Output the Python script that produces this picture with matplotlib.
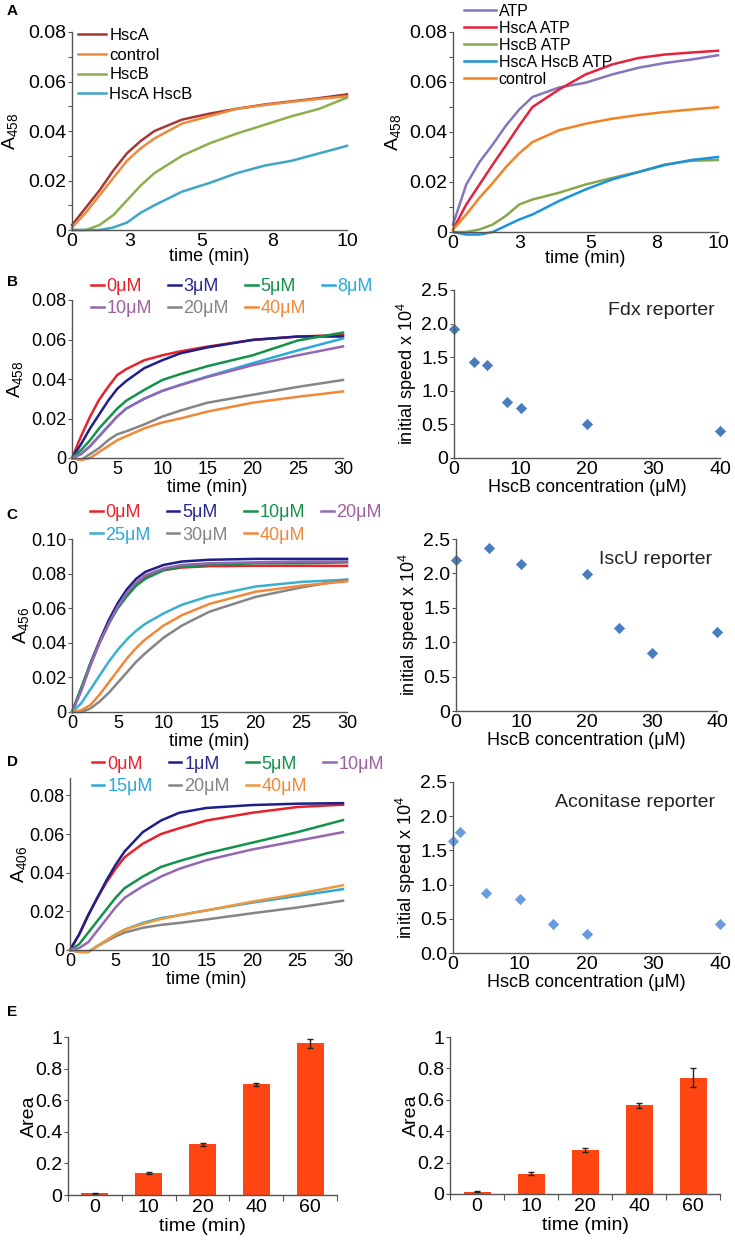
import matplotlib
matplotlib.use('Agg')
import matplotlib.pyplot as plt
from matplotlib.lines import Line2D

plt.rcParams['font.family'] = ['Liberation Sans', 'DejaVu Sans']
plt.rcParams['mathtext.fontset'] = 'custom'
plt.rcParams['mathtext.rm'] = 'Liberation Sans'
plt.rcParams['mathtext.it'] = 'Liberation Sans:italic'

# ---- panel A data ----
tA = [0, 0.5, 1, 1.5, 2, 2.5, 3, 4, 5, 6, 7, 8, 9, 10]
a_labels_left = ['HscA', 'control', 'HscB', 'HscA HscB']
a_hsca = [0.002, 0.009, 0.016, 0.024, 0.031, 0.036, 0.040, 0.0446, 0.047, 0.049, 0.0507, 0.052, 0.0533, 0.0548]
a_ctrl = [0.001, 0.007, 0.014, 0.021, 0.028, 0.033, 0.037, 0.043, 0.046, 0.049, 0.0505, 0.0518, 0.053, 0.054]
a_hscb = [0.0, 0.0, 0.002, 0.006, 0.012, 0.018, 0.023, 0.030, 0.035, 0.039, 0.0425, 0.046, 0.049, 0.0535]
a_hscab = [0.0, 0.0, 0.0, 0.001, 0.003, 0.007, 0.010, 0.0155, 0.019, 0.023, 0.026, 0.028, 0.031, 0.034]

a_labels_right = ['ATP', 'HscA ATP', 'HscB ATP', 'HscA HscB ATP', 'control']
a_atp = [0.003, 0.019, 0.028, 0.035, 0.0426, 0.049, 0.054, 0.0578, 0.0597, 0.063, 0.0657, 0.0676, 0.069, 0.0707]
a_hsca_atp = [0.001, 0.011, 0.019, 0.027, 0.0347, 0.0426, 0.050, 0.057, 0.063, 0.067, 0.0696, 0.071, 0.0718, 0.0725]
a_hscb_atp = [0.0, 0.0, 0.001, 0.003, 0.0065, 0.011, 0.013, 0.0157, 0.019, 0.0216, 0.024, 0.027, 0.0285, 0.0288]
a_hscab_atp = [0.0, -0.001, -0.001, 0.0, 0.0025, 0.005, 0.007, 0.0124, 0.017, 0.021, 0.024, 0.0268, 0.0288, 0.030]
a_ctrl_atp = [0.001, 0.007, 0.0137, 0.0196, 0.026, 0.0315, 0.036, 0.0407, 0.0433, 0.0453, 0.0468, 0.048, 0.049, 0.0499]

# ---- panel B data ----
tB = [0, 1, 2, 3, 4, 5, 6, 8, 10, 12, 15, 20, 25, 30]
b_labels = ['0\u03bcM', '3\u03bcM', '5\u03bcM', '8\u03bcM', '10\u03bcM', '20\u03bcM', '40\u03bcM']
b_curves = [
    [0, 0.011, 0.021, 0.0295, 0.036, 0.042, 0.045, 0.0495, 0.052, 0.054, 0.0564, 0.0598, 0.0615, 0.0623],
    [0, 0.007, 0.015, 0.022, 0.029, 0.035, 0.039, 0.0455, 0.0495, 0.053, 0.056, 0.0598, 0.0615, 0.0615],
    [0, 0.004, 0.009, 0.015, 0.020, 0.025, 0.029, 0.0345, 0.0395, 0.0425, 0.0465, 0.052, 0.0595, 0.0635],
    [0, 0.002, 0.006, 0.011, 0.016, 0.021, 0.025, 0.030, 0.034, 0.037, 0.0413, 0.048, 0.0545, 0.0605],
    [0, 0.002, 0.006, 0.011, 0.016, 0.021, 0.025, 0.030, 0.034, 0.037, 0.041, 0.047, 0.052, 0.0565],
    [0, -0.001, 0.002, 0.005, 0.009, 0.012, 0.0135, 0.017, 0.021, 0.024, 0.028, 0.032, 0.036, 0.0395],
    [0, -0.001, 0.0, 0.003, 0.006, 0.009, 0.011, 0.015, 0.018, 0.020, 0.0235, 0.028, 0.031, 0.0337],
]
fdx_conc = [0, 3, 5, 8, 10, 20, 40]
fdx_speed = [1.92, 1.43, 1.38, 0.84, 0.75, 0.50, 0.40]

# ---- panel C data ----
tC = [0, 1, 2, 3, 4, 5, 6, 7, 8, 10, 12, 15, 20, 25, 30]
c_labels = ['0\u03bcM', '5\u03bcM', '10\u03bcM', '20\u03bcM', '25\u03bcM', '30\u03bcM', '40\u03bcM']
c_curves = [
    [0, 0.013, 0.027, 0.040, 0.051, 0.061, 0.068, 0.074, 0.078, 0.082, 0.0835, 0.0843, 0.0845, 0.0845, 0.0845],
    [0, 0.013, 0.028, 0.041, 0.053, 0.063, 0.071, 0.077, 0.081, 0.085, 0.087, 0.088, 0.0885, 0.0885, 0.0885],
    [0, 0.014, 0.028, 0.040, 0.051, 0.060, 0.067, 0.073, 0.077, 0.082, 0.084, 0.085, 0.086, 0.086, 0.0865],
    [0, 0.012, 0.027, 0.040, 0.051, 0.061, 0.069, 0.075, 0.079, 0.083, 0.085, 0.086, 0.0865, 0.087, 0.087],
    [0, 0.005, 0.013, 0.021, 0.029, 0.036, 0.042, 0.047, 0.051, 0.057, 0.062, 0.067, 0.0725, 0.0752, 0.0765],
    [0, 0.0, 0.002, 0.006, 0.011, 0.017, 0.023, 0.029, 0.034, 0.043, 0.050, 0.058, 0.0665, 0.072, 0.0765],
    [0, 0.001, 0.004, 0.010, 0.017, 0.024, 0.031, 0.037, 0.042, 0.050, 0.056, 0.0625, 0.0695, 0.073, 0.0755],
]
iscu_conc = [0, 5, 10, 20, 25, 30, 40]
iscu_speed = [2.20, 2.37, 2.14, 1.99, 1.20, 0.85, 1.15]

# ---- panel D data ----
tD = [0, 1, 2, 3, 4, 5, 6, 8, 10, 12, 15, 20, 25, 30]
d_labels = ['0\u03bcM', '1\u03bcM', '5\u03bcM', '10\u03bcM', '15\u03bcM', '20\u03bcM', '40\u03bcM']
d_curves = [
    [0, 0.008, 0.018, 0.027, 0.035, 0.042, 0.048, 0.055, 0.060, 0.063, 0.067, 0.071, 0.074, 0.0752],
    [0, 0.008, 0.018, 0.027, 0.036, 0.044, 0.051, 0.061, 0.067, 0.071, 0.0735, 0.075, 0.0757, 0.076],
    [0, 0.003, 0.009, 0.015, 0.021, 0.027, 0.032, 0.038, 0.043, 0.046, 0.050, 0.0555, 0.061, 0.0672],
    [0, 0.001, 0.004, 0.010, 0.016, 0.022, 0.027, 0.033, 0.038, 0.042, 0.0465, 0.052, 0.0565, 0.061],
    [0, -0.001, -0.001, 0.002, 0.005, 0.008, 0.0105, 0.014, 0.0165, 0.018, 0.0205, 0.0245, 0.028, 0.0315],
    [0, -0.001, -0.001, 0.002, 0.0045, 0.007, 0.009, 0.0115, 0.013, 0.014, 0.0158, 0.019, 0.022, 0.0255],
    [0, -0.001, -0.001, 0.002, 0.005, 0.008, 0.0105, 0.0135, 0.016, 0.018, 0.0205, 0.025, 0.029, 0.0335],
]
acn_conc = [0, 1, 5, 10, 15, 20, 40]
acn_speed = [1.64, 1.77, 0.87, 0.79, 0.42, 0.28, 0.42]

# ---- panel E data ----
e_times = ['0', '10', '20', '40', '60']
e_left = [0.01, 0.14, 0.32, 0.70, 0.96]
e_left_err = [0.003, 0.006, 0.008, 0.008, 0.03]
e_right = [0.015, 0.13, 0.28, 0.565, 0.74]
e_right_err = [0.003, 0.007, 0.01, 0.017, 0.06]

# colours
col_a_left = ['#A43833', '#EC8A3E', '#8CB04C', '#3EA6C6']
col_a_right = ['#8675BC', '#E4223E', '#86A84A', '#1C92DA', '#F08424']
col_b = ['#E8212B', '#1F1F8A', '#13924A', '#2AA9DA', '#9467B4', '#858585', '#F0883A']
col_b_text = ['#E8212B', '#2A2A8C', '#13924A', '#2AA9DA', '#A05FA0', '#858585', '#F0883A']
col_c = ['#E8212B', '#1F1F8A', '#13924A', '#9467B4', '#3AB0D0', '#858585', '#F0883A']
col_c_text = ['#E8212B', '#2A2A8C', '#13924A', '#A05FA0', '#2AA9DA', '#858585', '#F0883A']
col_d = ['#E8212B', '#1F1F8A', '#13924A', '#9467B4', '#2AA9DA', '#858585', '#F0983A']
col_d_text = ['#E8212B', '#2A2A8C', '#13924A', '#A05FA0', '#2AA9DA', '#858585', '#F0883A']
bar_col = '#FF4511'
spine_col = '#555555'

W, H = 735, 1240
fig = plt.figure(figsize=(W / 100, H / 100), dpi=100)


def add_ax(left, right, top, bottom):
    return fig.add_axes([left / W, 1 - bottom / H, (right - left) / W, (bottom - top) / H])


def style(ax, fs=13):
    for s in ['top', 'right']:
        ax.spines[s].set_visible(False)
    for s in ['left', 'bottom']:
        ax.spines[s].set_color(spine_col)
        ax.spines[s].set_linewidth(1.0)
    ax.tick_params(axis='x', length=0, pad=2, labelsize=fs)
    ax.tick_params(axis='y', which='both', direction='out', length=3, width=0.8,
                   color=spine_col, pad=1, labelsize=fs)


def row_major(items, ncol):
    nrow = (len(items) + ncol - 1) // ncol
    out = []
    for c in range(ncol):
        for r in range(nrow):
            i = r * ncol + c
            if i < len(items):
                out.append(items[i])
    return out


def color_legend(ax, labels, cols, tcols, anchor, fs=13, colsp=0.9):
    handles = [Line2D([], [], color=c, lw=1.8) for c in cols]
    h = row_major(handles, 4)
    lab = row_major(labels, 4)
    tc = row_major(tcols, 4)
    leg = ax.legend(h, lab, ncol=4, loc='upper left', bbox_to_anchor=anchor, frameon=False,
                    fontsize=fs, handlelength=0.7, handletextpad=0.15, columnspacing=colsp,
                    labelspacing=0.3, borderpad=0, borderaxespad=0)
    for t, c in zip(leg.get_texts(), tc):
        t.set_color(c)
    return leg


def ylab_A(ax, sub, x):
    ax.set_ylabel('A$_{' + sub + '}$', fontsize=14, labelpad=0)
    ax.yaxis.set_label_coords(x, 0.5)


# ----- A left -----
ax = add_ax(72, 347, 32, 230)
for y, c, l in zip([a_hsca, a_ctrl, a_hscb, a_hscab], col_a_left, a_labels_left):
    ax.plot(tA, y, color=c, lw=1.8, label=l, clip_on=False)
ax.set_xlim(0, 10)
ax.set_ylim(0, 0.08)
ax.set_yticks([0, 0.02, 0.04, 0.06, 0.08])
ax.set_yticklabels(['0', '0.02', '0.04', '0.06', '0.08'])
ax.set_yticks([0.01, 0.03, 0.05, 0.07], minor=True)
ax.set_xticks([0, 2.1, 4.7, 7.3, 10])
ax.set_xticklabels(['0', '3', '5', '8', '10'])
style(ax, 14)
ylab_A(ax, '458', -0.19)
ax.set_xlabel('time (min)', fontsize=13, labelpad=-1)
ax.legend(loc='upper left', bbox_to_anchor=(0.02, 1.02), frameon=False, fontsize=12,
          handlelength=1.7, handletextpad=0.2, labelspacing=0.28, borderpad=0, borderaxespad=0)

# ----- A right -----
ax = add_ax(453, 718, 32, 232)
for y, c, l in zip([a_atp, a_hsca_atp, a_hscb_atp, a_hscab_atp, a_ctrl_atp], col_a_right, a_labels_right):
    ax.plot(tA, y, color=c, lw=1.8, label=l, clip_on=False)
ax.set_xlim(0, 10)
ax.set_ylim(0, 0.08)
ax.set_yticks([0, 0.02, 0.04, 0.06, 0.08])
ax.set_yticklabels(['0', '0.02', '0.04', '0.06', '0.08'])
ax.set_yticks([0.01, 0.03, 0.05, 0.07], minor=True)
ax.set_xticks([0, 2.5, 5.2, 7.7, 10])
ax.set_xticklabels(['0', '3', '5', '8', '10'])
style(ax, 14)
ylab_A(ax, '458', -0.19)
ax.set_xlabel('time (min)', fontsize=13, labelpad=-1)
ax.legend(loc='upper left', bbox_to_anchor=(0.04, 1.14), frameon=False, fontsize=11.5,
          handlelength=2.0, handletextpad=0.2, labelspacing=0.12, borderpad=0, borderaxespad=0)


def scatter_panel(ax, conc, speed, title, color, zero_label):
    ax.plot(conc, speed, linestyle='none', marker='D', ms=6, color=color,
            markeredgecolor='white', markeredgewidth=0.4, clip_on=False)
    ax.set_xlim(0, 40)
    ax.set_ylim(0, 2.5)
    ax.set_xticks([0, 10, 20, 30, 40])
    ax.set_yticks([0, 0.5, 1.0, 1.5, 2.0, 2.5])
    ax.set_yticklabels([zero_label, '0.5', '1.0', '1.5', '2.0', '2.5'])
    style(ax, 14)
    ax.set_ylabel('initial speed x 10$^{4}$', fontsize=13, labelpad=2)
    ax.set_xlabel('HscB concentration (\u03bcM)', fontsize=13, labelpad=1)
    ax.text(0.98, 0.88, title, transform=ax.transAxes, ha='right', va='center', fontsize=14,
            color='#222222')


# ----- B -----
ax = add_ax(72, 343, 300, 458)
for y, c in zip(b_curves, col_b):
    ax.plot(tB, y, color=c, lw=1.8, clip_on=False)
ax.set_xlim(0, 30)
ax.set_ylim(0, 0.08)
ax.set_xticks([0, 5, 10, 15, 20, 25, 30])
ax.set_yticks([0, 0.02, 0.04, 0.06, 0.08])
ax.set_yticklabels(['0', '0.02', '0.04', '0.06', '0.08'])
style(ax, 13)
ylab_A(ax, '458', -0.173)
ax.set_xlabel('time (min)', fontsize=13, labelpad=1)
color_legend(ax, b_labels, col_b, col_b_text, (0.07, 1.14))

ax = add_ax(454, 720, 290, 458)
scatter_panel(ax, fdx_conc, fdx_speed, 'Fdx reporter', '#4A7DBE', '0')

# ----- C -----
ax = add_ax(72, 347, 539, 712)
for y, c in zip(c_curves, col_c):
    ax.plot(tC, y, color=c, lw=1.8, clip_on=False)
ax.set_xlim(0, 30)
ax.set_ylim(0, 0.10)
ax.set_xticks([0, 5, 10, 15, 20, 25, 30])
ax.set_yticks([0, 0.02, 0.04, 0.06, 0.08, 0.10])
ax.set_yticklabels(['0', '0.02', '0.04', '0.06', '0.08', '0.10'])
style(ax, 13)
ylab_A(ax, '456', -0.15)
ax.set_xlabel('time (min)', fontsize=13, labelpad=1)
color_legend(ax, c_labels, col_c, col_c_text, (0.065, 1.2))

ax = add_ax(456, 717, 539, 711)
scatter_panel(ax, iscu_conc, iscu_speed, 'IscU reporter', '#4A7DBE', '0')

# ----- D -----
ax = add_ax(70, 343, 778, 950)
for y, c in zip(d_curves, col_d):
    ax.plot(tD, y, color=c, lw=1.8, clip_on=False)
ax.set_xlim(0, 30)
ax.set_ylim(0, 0.089)
ax.set_xticks([0, 5, 10, 15, 20, 25, 30])
ax.set_yticks([0, 0.02, 0.04, 0.06, 0.08])
ax.set_yticklabels(['0', '0.02', '0.04', '0.06', '0.08'])
style(ax, 13)
ylab_A(ax, '406', -0.15)
ax.set_xlabel('time (min)', fontsize=13, labelpad=1)
color_legend(ax, d_labels, col_d, col_d_text, (0.08, 1.13))

ax = add_ax(453, 720, 782, 953)
scatter_panel(ax, acn_conc, acn_speed, 'Aconitase reporter', '#6A9BE0', '0.0')


# ----- E -----
def bar_panel(ax, vals, errs):
    x = list(range(len(e_times)))
    ax.bar(x, vals, width=0.5, color=bar_col, yerr=errs, capsize=2.5,
           error_kw=dict(ecolor='#222222', elinewidth=1.0, capthick=1.0))
    ax.set_xlim(-0.5, len(e_times) - 0.5)
    ax.set_ylim(0, 1)
    ax.set_xticks(x)
    ax.set_xticklabels(e_times)
    ax.set_xticks([i - 0.5 for i in range(len(e_times) + 1)], minor=True)
    ax.set_yticks([0, 0.2, 0.4, 0.6, 0.8, 1.0])
    ax.set_yticklabels(['0', '0.2', '0.4', '0.6', '0.8', '1'])
    style(ax, 14)
    ax.tick_params(axis='x', which='minor', length=4, width=0.8, color=spine_col)
    ax.tick_params(axis='x', which='major', length=0, pad=3)
    ax.set_ylabel('Area', fontsize=14, labelpad=-2)
    ax.set_xlabel('time (min)', fontsize=14, labelpad=1)


ax = add_ax(68, 337, 1037, 1195)
bar_panel(ax, e_left, e_left_err)
ax = add_ax(450, 720, 1037, 1194)
bar_panel(ax, e_right, e_right_err)

# panel letters
for lab, y in zip(['A', 'B', 'C', 'D', 'E'], [11, 282, 515, 762, 1012]):
    fig.text(12 / W, 1 - y / H, lab, fontsize=11, fontweight='bold', va='center', ha='center')

fig.savefig('out.png', dpi=100)
